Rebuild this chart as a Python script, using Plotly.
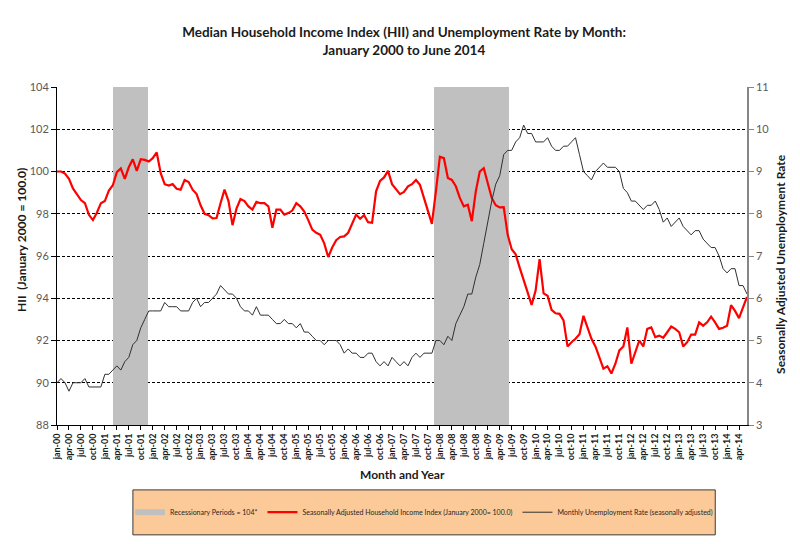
import plotly.graph_objects as go

# month labels jan-00 .. jun-14
MONTHS = ["jan", "feb", "mar", "apr", "may", "jun", "jul", "aug", "sep", "oct", "nov", "dec"]
month_labels = [f"{m}-{y:02d}" for y in range(0, 15) for m in MONTHS][:174]
tick_labels = month_labels[::3]

# Seasonally adjusted household income index (Jan 2000 = 100.0)
hii = [
    100.0, 100.0, 99.9, 99.65, 99.2, 98.9, 98.65, 98.5, 97.95, 97.7, 98.05, 98.5,
    98.6, 99.1, 99.35, 99.97, 100.15, 99.65, 100.2, 100.58, 100.03, 100.58, 100.55, 100.47,
    100.63, 100.9, 99.92, 99.4, 99.33, 99.4, 99.18, 99.14, 99.6, 99.5, 99.14, 98.93,
    98.4, 98.0, 97.93, 97.78, 97.8, 98.5, 99.14, 98.6, 97.46, 98.24, 98.7, 98.6,
    98.35, 98.2, 98.56, 98.5, 98.5, 98.35, 97.34, 98.2, 98.2, 97.96, 98.03, 98.15,
    98.5, 98.35, 98.1, 97.7, 97.25, 97.1, 97.0, 96.6, 95.95, 96.4, 96.75, 96.9,
    96.93, 97.1, 97.5, 97.96, 97.76, 97.93, 97.6, 97.57, 99.06, 99.56, 99.72, 100.03,
    99.4, 99.14, 98.93, 99.03, 99.3, 99.4, 99.6, 99.37, 98.75, 98.12, 97.52, 99.06,
    100.7, 100.63, 99.69, 99.6, 99.3, 98.75, 98.35, 98.43, 97.65, 99.06, 100.0, 100.16,
    99.45, 98.75, 98.4, 98.3, 98.31, 97.0, 96.32, 96.08, 95.45, 94.9, 94.28, 93.68,
    94.36, 95.85, 94.23, 94.12, 93.45, 93.29, 93.26, 92.95, 91.72, 91.92, 92.08, 92.3,
    93.17, 92.62, 92.08, 91.72, 91.14, 90.67, 90.78, 90.44, 90.9, 91.53, 91.72, 92.62,
    90.9, 91.45, 92.0, 91.72, 92.55, 92.62, 92.16, 92.23, 92.13, 92.39, 92.66, 92.55,
    92.39, 91.72, 91.92, 92.28, 92.28, 92.86, 92.7, 92.86, 93.13, 92.86, 92.55, 92.6,
    92.7, 93.67, 93.4, 93.06, 93.56, 94.06,
]

# Monthly unemployment rate (seasonally adjusted)
unemployment = [
    4.0, 4.1, 4.0, 3.8, 4.0, 4.0, 4.0, 4.1, 3.9, 3.9, 3.9, 3.9,
    4.2, 4.2, 4.3, 4.4, 4.3, 4.5, 4.6, 4.9, 5.0, 5.3, 5.5, 5.7,
    5.7, 5.7, 5.7, 5.9, 5.8, 5.8, 5.8, 5.7, 5.7, 5.7, 5.9, 6.0,
    5.8, 5.9, 5.9, 6.0, 6.1, 6.3, 6.2, 6.1, 6.1, 6.0, 5.8, 5.7,
    5.7, 5.6, 5.8, 5.6, 5.6, 5.6, 5.5, 5.4, 5.4, 5.5, 5.4, 5.4,
    5.3, 5.4, 5.2, 5.2, 5.1, 5.0, 5.0, 4.9, 5.0, 5.0, 5.0, 4.9,
    4.7, 4.8, 4.7, 4.7, 4.6, 4.6, 4.7, 4.7, 4.5, 4.4, 4.5, 4.4,
    4.6, 4.5, 4.4, 4.5, 4.4, 4.6, 4.7, 4.6, 4.7, 4.7, 4.7, 5.0,
    5.0, 4.9, 5.1, 5.0, 5.4, 5.6, 5.8, 6.1, 6.1, 6.5, 6.8, 7.3,
    7.8, 8.3, 8.7, 8.9, 9.4, 9.5, 9.5, 9.7, 9.8, 10.1, 9.9, 9.9,
    9.7, 9.7, 9.7, 9.8, 9.6, 9.5, 9.5, 9.6, 9.6, 9.7, 9.8, 9.4,
    9.0, 8.9, 8.8, 9.0, 9.1, 9.2, 9.1, 9.1, 9.1, 9.0, 8.6, 8.5,
    8.3, 8.3, 8.2, 8.1, 8.2, 8.2, 8.3, 8.1, 7.8, 7.9, 7.7, 7.8,
    7.9, 7.7, 7.6, 7.5, 7.6, 7.6, 7.4, 7.3, 7.2, 7.2, 7.0, 6.7,
    6.6, 6.7, 6.7, 6.3, 6.3, 6.1,
]

# recessionary periods (first month, last month), drawn as columns = 104
recession_spans = [("mar-01", "nov-01"), ("dec-07", "jun-09")]
RECESSION_LEVEL = 104

recession = [None] * len(month_labels)
for start, end in recession_spans:
    for k in range(month_labels.index(start), month_labels.index(end) + 1):
        recession[k] = RECESSION_LEVEL

idx = list(range(len(month_labels)))
FONT = "Lato, Carlito, Calibri, Arial, sans-serif"
TITLE_FONT = dict(family=FONT, size=12, color="#1a1a1a", weight="bold")

fig = go.Figure()

fig.add_trace(
    go.Bar(
        x=idx
        , y=recession
        , name="Recessionary Periods = 104*"
        , marker=dict(color="#c0c0c0", line=dict(width=0))
        , xaxis="x"
        , yaxis="y"
        , hovertext=month_labels
        , showlegend=False
    )
)
# legend key only: a wide grey swatch like the original
fig.add_trace(
    go.Scatter(
        x=[None]
        , y=[None]
        , mode="lines"
        , name="Recessionary Periods = 104*"
        , line=dict(color="#c0c0c0", width=6)
        , xaxis="x2"
        , yaxis="y"
    )
)
fig.add_trace(
    go.Scatter(
        x=idx
        , y=hii
        , mode="lines"
        , name="Seasonally Adjusted Household Income Index (January 2000= 100.0)"
        , line=dict(color="#ff0000", width=2.2)
        , xaxis="x2"
        , yaxis="y"
        , hovertext=month_labels
    )
)
fig.add_trace(
    go.Scatter(
        x=idx
        , y=unemployment
        , mode="lines"
        , name="Monthly Unemployment Rate (seasonally adjusted)"
        , line=dict(color="#303030", width=1)
        , xaxis="x2"
        , yaxis="y2"
        , hovertext=month_labels
    )
)

# the page body keeps its default 8px margin, so margins are shifted to compensate
fig.update_layout(
    width=800
    , height=544
    , margin=dict(l=49, r=61, t=79, b=127, pad=0)
    , plot_bgcolor="white"
    , paper_bgcolor="white"
    , font=dict(family=FONT, size=11, color="#404040")
    , bargap=0
    , showlegend=True
    , title=dict(
        text="Median Household Income Index (HII) and Unemployment Rate by Month:<br>January 2000 to June 2014"
        , x=0.495, xanchor="center", y=0.946, yanchor="top"
        , font=dict(family=FONT, size=13.5, color="#1a1a1a", weight="bold")
    )
    , xaxis=dict(
        range=[-0.5, len(idx) - 0.5]
        , showticklabels=False, showgrid=False, zeroline=False, showline=False, ticks=""
    )
    , xaxis2=dict(
        overlaying="x", anchor="y", side="bottom"
        , range=[0, len(idx) - 1]
        , tickmode="array", tickvals=idx[::3], ticktext=tick_labels
        , tickangle=-90, ticks="outside", ticklen=4, tickcolor="#000000"
        , tickfont=dict(family=FONT, size=9, color="#1a1a1a", weight="bold")
        , showline=True, linecolor="#000000", linewidth=1
        , showgrid=False, zeroline=False
    )
    , yaxis=dict(
        range=[88, 104], dtick=2
        , showgrid=True, gridcolor="#000000", gridwidth=1, griddash="3px,2px"
        , showline=True, linecolor="#000000", linewidth=1
        , ticks="outside", ticklen=5, tickcolor="#000000"
        , tickfont=dict(size=11, color="#595959")
        , zeroline=False
    )
    , yaxis2=dict(
        overlaying="y", anchor="x2", side="right"
        , range=[3, 11], dtick=1
        , showgrid=False, zeroline=False
        , showline=True, linecolor="#868686", linewidth=1.5
        , ticks="outside", ticklen=5, tickcolor="#868686"
        , tickfont=dict(size=11, color="#595959")
    )
    , legend=dict(
        orientation="h", x=0.532, xanchor="center", y=-0.258, yanchor="middle"
        , bgcolor="rgba(0,0,0,0)", font=dict(family=FONT, size=7, color="#262626")
        , itemwidth=30, tracegroupgap=0
    )
    , shapes=[
        dict(
            type="rect", xref="paper", yref="paper"
            , x0=0.110, x1=0.954, y0=-0.325, y1=-0.192
            , fillcolor="#fcca98", line=dict(color="#3a3a3a", width=1), layer="below"
        )
    ]
    , annotations=[
        dict(
            text="HII  (January 2000 = 100.0)", xref="paper", yref="paper"
            , x=-0.0525, y=0.547, xanchor="center", yanchor="middle"
            , textangle=-90, showarrow=False, font=TITLE_FONT
        )
        , dict(
            text="Seasonally Adjusted Unemployment Rate", xref="paper", yref="paper"
            , x=1.0475, y=0.476, xanchor="center", yanchor="middle"
            , textangle=-90, showarrow=False, font=TITLE_FONT
        )
        , dict(
            text="Month and Year", xref="paper", yref="paper"
            , x=0.5, y=-0.145, xanchor="center", yanchor="middle"
            , showarrow=False, font=TITLE_FONT
        )
    ]
)

fig.write_html("out.html")
